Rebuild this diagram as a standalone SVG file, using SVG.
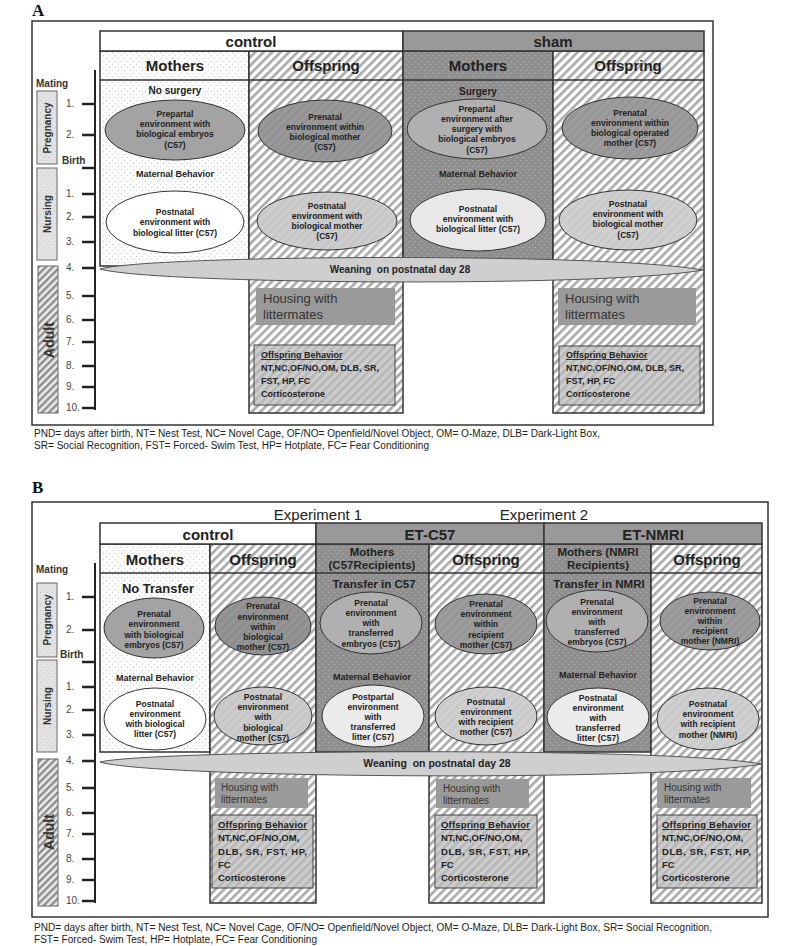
<svg xmlns="http://www.w3.org/2000/svg" width="800" height="946" viewBox="0 0 800 946">
<defs>
<pattern id="hatch" width="6" height="6" patternUnits="userSpaceOnUse" patternTransform="rotate(45)"><rect width="6" height="6" fill="#fff"/><rect width="2.6" height="6" fill="#a8a8a8"/></pattern>
<pattern id="hatchAdult" width="5" height="5" patternUnits="userSpaceOnUse" patternTransform="rotate(45)"><rect width="5" height="5" fill="#ececec"/><rect width="2.4" height="5" fill="#8c8c8c"/></pattern>
<pattern id="hatchBox" width="6" height="6" patternUnits="userSpaceOnUse" patternTransform="rotate(45)"><rect width="6" height="6" fill="#cdcdcd"/><rect width="2.6" height="6" fill="#b6b6b6"/></pattern>
<pattern id="dotsLight" width="6" height="6" patternUnits="userSpaceOnUse"><rect width="6" height="6" fill="#fff"/><circle cx="1.5" cy="1.5" r="0.6" fill="#c4c4c4"/><circle cx="4.5" cy="4.5" r="0.6" fill="#c4c4c4"/></pattern>
<pattern id="dotsDark" width="6" height="6" patternUnits="userSpaceOnUse"><rect width="6" height="6" fill="#8f8f8f"/><circle cx="1.5" cy="1.5" r="0.6" fill="#bdbdbd"/><circle cx="4.5" cy="4.5" r="0.6" fill="#bdbdbd"/></pattern>
<pattern id="dotsPhase" width="6" height="6" patternUnits="userSpaceOnUse"><rect width="6" height="6" fill="#e2e2e2"/><circle cx="1.5" cy="1.5" r="0.6" fill="#c6c6c6"/><circle cx="4.5" cy="4.5" r="0.6" fill="#c6c6c6"/></pattern>
</defs>
<style>
text{font-family:"Liberation Sans",Arial,sans-serif}
.h{font-size:15px;font-weight:bold;fill:#222;text-anchor:middle}
.hn{font-size:15px;fill:#222;text-anchor:middle}
.e{font-size:8.5px;font-weight:bold;fill:#222;text-anchor:middle}
.mb{font-size:9px;font-weight:bold;fill:#222;text-anchor:middle}
.sub{font-size:10px;font-weight:bold;fill:#222;text-anchor:middle}
.col{stroke:#333;stroke-width:1.5}
.ell{stroke:#333;stroke-width:1}
.tick{stroke:#222;stroke-width:2.5}
.num{font-size:10px;fill:#444}
.tlb{font-size:10px;font-weight:bold;fill:#333}
.ph{stroke:#666;stroke-width:1}
.phase{font-size:10px;font-weight:bold;fill:#333;text-anchor:middle}
.house{font-size:13px;fill:#333}
.houseB{font-size:10px;fill:#333}
.ob{font-size:9px;font-weight:bold;fill:#222}
.obB{font-size:9.5px;font-weight:bold;fill:#222}
.cap{font-size:10px;fill:#222}
.wean{fill:#cfcfcf;stroke:#555;stroke-width:1}
.wt{font-size:10px;font-weight:bold;fill:#222;text-anchor:middle}
.hbox{fill:#9a9a9a}
.obox{fill:url(#hatchBox);stroke:#444;stroke-width:1}
</style>

<rect width="800" height="946" fill="#fff"/>

<!-- ================= PANEL A ================= -->
<text x="32" y="16" style="font-family:'Liberation Serif',serif;font-size:17px;font-weight:bold;fill:#111">A</text>
<rect x="32" y="21" width="681" height="404" fill="#fff" stroke="#333" stroke-width="1.5"/>

<g id="A-columns">
<rect x="100" y="51" width="149" height="215" fill="url(#dotsLight)" class="col"/>
<rect x="249" y="51" width="154" height="362" fill="url(#hatch)" class="col"/>
<rect x="403" y="51" width="150" height="215" fill="url(#dotsDark)" class="col"/>
<rect x="553" y="51" width="151" height="362" fill="url(#hatch)" class="col"/>
<line x1="100" y1="80" x2="704" y2="80" class="col"/>
</g>
<g id="A-header-control">
<rect x="100" y="31" width="303" height="20" fill="#fff" class="col"/>
<text x="251" y="47" class="h">control</text>
</g>
<g id="A-header-sham">
<rect x="403" y="31" width="301" height="20" fill="#999" class="col"/>
<text x="553" y="47" class="h">sham</text>
</g>
<g id="A-sub">
<text x="175" y="71" class="h">Mothers</text>
<text x="326" y="71" class="h">Offspring</text>
<text x="478" y="71" class="h">Mothers</text>
<text x="628" y="71" class="h">Offspring</text>
<text x="175" y="94" class="sub">No surgery</text>
<text x="478" y="95" class="sub">Surgery</text>
<text x="175" y="177" class="mb">Maternal Behavior</text>
<text x="478" y="177" class="mb">Maternal Behavior</text>
</g>

<g id="A-ctrl-mother-prepartal">
<ellipse cx="175" cy="130" rx="70" ry="30" fill="#a3a3a3" class="ell"/>
<text class="e"><tspan x="175" y="117">Prepartal</tspan><tspan x="175" y="127">environment with</tspan><tspan x="175" y="137">biological embryos</tspan><tspan x="175" y="148">(C57)</tspan></text>
</g>
<g id="A-ctrl-mother-postnatal">
<ellipse cx="175" cy="222" rx="69" ry="31" fill="#fff" class="ell"/>
<text class="e"><tspan x="175" y="215">Postnatal</tspan><tspan x="175" y="225">environment with</tspan><tspan x="175" y="236">biological litter (C57)</tspan></text>
</g>
<g id="A-ctrl-offspring-prenatal">
<ellipse cx="325" cy="131" rx="67" ry="31" fill="#8e8e8e" fill-opacity="0.9" class="ell"/>
<text class="e"><tspan x="325" y="120">Prenatal</tspan><tspan x="325" y="130">environment within</tspan><tspan x="325" y="140">biological mother</tspan><tspan x="325" y="150">(C57)</tspan></text>
</g>
<g id="A-ctrl-offspring-postnatal">
<ellipse cx="327" cy="221" rx="70" ry="29" fill="#c9c9c9" fill-opacity="0.92" class="ell"/>
<text class="e"><tspan x="327" y="209">Postnatal</tspan><tspan x="327" y="219">environment with</tspan><tspan x="327" y="229">biological mother</tspan><tspan x="327" y="239">(C57)</tspan></text>
</g>
<g id="A-sham-mother-prepartal">
<ellipse cx="477" cy="129" rx="70" ry="30" fill="#b0b0b0" class="ell"/>
<text class="e"><tspan x="477" y="112">Prepartal</tspan><tspan x="477" y="122">environment after</tspan><tspan x="477" y="132">surgery with</tspan><tspan x="477" y="142">biological embryos</tspan><tspan x="477" y="153">(C57)</tspan></text>
</g>
<g id="A-sham-mother-postnatal">
<ellipse cx="478" cy="220" rx="68" ry="31" fill="#e8e8e8" class="ell"/>
<text class="e"><tspan x="478" y="212">Postnatal</tspan><tspan x="478" y="222">environment with</tspan><tspan x="478" y="232">biological litter (C57)</tspan></text>
</g>
<g id="A-sham-offspring-prenatal">
<ellipse cx="630" cy="128" rx="68" ry="31" fill="#929292" fill-opacity="0.9" class="ell"/>
<text class="e"><tspan x="630" y="116">Prenatal</tspan><tspan x="630" y="126">environment within</tspan><tspan x="630" y="136">biological operated</tspan><tspan x="630" y="146">mother (C57)</tspan></text>
</g>
<g id="A-sham-offspring-postnatal">
<ellipse cx="628" cy="220" rx="69" ry="30" fill="#cccccc" fill-opacity="0.92" class="ell"/>
<text class="e"><tspan x="628" y="207">Postnatal</tspan><tspan x="628" y="217">environment with</tspan><tspan x="628" y="227">biological mother</tspan><tspan x="628" y="238">(C57)</tspan></text>
</g>

<g id="A-weaning">
<path d="M100,269 C150,255 600,252 703,270 C600,288 150,284 100,269 Z" class="wean"/>
<text x="400" y="273" class="wt" xml:space="preserve">Weaning  on postnatal day 28</text>
</g>

<g id="A-ctrl-housing">
<rect x="256" y="288" width="139" height="37" class="hbox"/>
<text class="house"><tspan x="263" y="303">Housing with</tspan><tspan x="263" y="319">littermates</tspan></text>
</g>
<g id="A-sham-housing">
<rect x="558" y="288" width="138" height="37" class="hbox"/>
<text class="house"><tspan x="565" y="303">Housing with</tspan><tspan x="565" y="319">littermates</tspan></text>
</g>
<g id="A-ctrl-behavior">
<rect x="254" y="345" width="141" height="60" class="obox"/>
<text class="ob"><tspan x="261" y="358" text-decoration="underline">Offspring Behavior</tspan><tspan x="261" y="371">NT,NC,OF/NO,OM, DLB, SR,</tspan><tspan x="261" y="384">FST, HP, FC</tspan><tspan x="261" y="397">Corticosterone</tspan></text>
</g>
<g id="A-sham-behavior">
<rect x="559" y="346" width="141" height="59" class="obox"/>
<text class="ob"><tspan x="566" y="358" text-decoration="underline">Offspring Behavior</tspan><tspan x="566" y="371">NT,NC,OF/NO,OM, DLB, SR,</tspan><tspan x="566" y="384">FST, HP, FC</tspan><tspan x="566" y="397">Corticosterone</tspan></text>
</g>

<g id="A-timeline">
<rect x="37" y="91" width="20" height="73" fill="url(#dotsPhase)" class="ph"/>
<rect x="37" y="168" width="20" height="92" fill="url(#dotsPhase)" class="ph"/>
<rect x="38" y="266" width="20" height="147" fill="url(#hatchAdult)" class="ph"/>
<text transform="translate(51,128) rotate(-90)" class="phase">Pregnancy</text>
<text transform="translate(51,214) rotate(-90)" class="phase">Nursing</text>
<text transform="translate(54,340) rotate(-90)" class="phase" style="font-size:14px">Adult</text>
<line x1="95" y1="70" x2="95" y2="410" stroke="#222" stroke-width="2"/>
<g class="tick">
<line x1="82" y1="104" x2="95" y2="104"/><line x1="82" y1="135" x2="95" y2="135"/><line x1="82" y1="168" x2="95" y2="168"/>
<line x1="82" y1="194" x2="95" y2="194"/><line x1="82" y1="217" x2="95" y2="217"/><line x1="82" y1="242" x2="95" y2="242"/>
<line x1="82" y1="268" x2="95" y2="268"/><line x1="82" y1="296" x2="95" y2="296"/><line x1="82" y1="320" x2="95" y2="320"/>
<line x1="82" y1="342" x2="95" y2="342"/><line x1="82" y1="366" x2="95" y2="366"/><line x1="82" y1="387" x2="95" y2="387"/>
<line x1="82" y1="408" x2="95" y2="408"/>
</g>
<text x="36" y="87" class="tlb">Mating</text>
<text x="62" y="164" class="tlb">Birth</text>
<g class="num">
<text x="66" y="107">1.</text><text x="66" y="138">2.</text>
<text x="66" y="197">1.</text><text x="66" y="220">2.</text><text x="66" y="245">3.</text>
<text x="66" y="271">4.</text><text x="66" y="299">5.</text><text x="66" y="323">6.</text><text x="66" y="345">7.</text>
<text x="66" y="369">8.</text><text x="66" y="390">9.</text><text x="66" y="411">10.</text>
</g>
</g>

<text class="cap"><tspan x="34" y="437" textLength="566" lengthAdjust="spacingAndGlyphs">PND= days after birth, NT= Nest Test, NC= Novel Cage, OF/NO= Openfield/Novel Object, OM= O-Maze, DLB= Dark-Light Box,</tspan><tspan x="34" y="449" textLength="395" lengthAdjust="spacingAndGlyphs">SR= Social Recognition, FST= Forced- Swim Test, HP= Hotplate, FC= Fear Conditioning</tspan></text>

<!-- ================= PANEL B ================= -->
<text x="32" y="493" style="font-family:'Liberation Serif',serif;font-size:17px;font-weight:bold;fill:#111">B</text>
<rect x="32" y="502" width="736" height="415" fill="#fff" stroke="#333" stroke-width="1.5"/>
<text x="318" y="520" class="hn">Experiment 1</text>
<text x="544" y="520" class="hn">Experiment 2</text>

<g id="B-columns">
<rect x="100" y="544" width="110" height="208" fill="url(#dotsLight)" class="col"/>
<rect x="210" y="544" width="106" height="359" fill="url(#hatch)" class="col"/>
<rect x="316" y="544" width="113" height="208" fill="url(#dotsDark)" class="col"/>
<rect x="429" y="544" width="115" height="359" fill="url(#hatch)" class="col"/>
<rect x="544" y="544" width="107" height="208" fill="url(#dotsDark)" class="col"/>
<rect x="651" y="544" width="111" height="359" fill="url(#hatch)" class="col"/>
<line x1="100" y1="573" x2="762" y2="573" class="col"/>
</g>
<g id="B-header-control">
<rect x="100" y="523" width="216" height="21" fill="#fff" class="col"/>
<text x="208" y="540" class="h">control</text>
</g>
<g id="B-header-etc57">
<rect x="316" y="523" width="228" height="21" fill="#999" class="col"/>
<text x="430" y="540" class="h">ET-C57</text>
</g>
<g id="B-header-etnmri">
<rect x="544" y="523" width="218" height="21" fill="#999" class="col"/>
<text x="653" y="540" class="h">ET-NMRI</text>
</g>
<g id="B-sub">
<text x="155" y="565" class="h">Mothers</text>
<text x="263" y="565" class="h">Offspring</text>
<text class="h" style="font-size:11.5px"><tspan x="372" y="556">Mothers</tspan><tspan x="372" y="569">(C57Recipients)</tspan></text>
<text x="486" y="565" class="h">Offspring</text>
<text class="h" style="font-size:11.5px"><tspan x="598" y="556">Mothers (NMRI</tspan><tspan x="598" y="569">Recipients)</tspan></text>
<text x="707" y="565" class="h">Offspring</text>
<text x="158" y="593" class="h" style="font-size:13px">No Transfer</text>
<text x="374" y="588" class="h" style="font-size:11.5px">Transfer in C57</text>
<text x="599" y="588" class="h" style="font-size:11.5px">Transfer in NMRI</text>
<text x="155" y="681" class="mb">Maternal Behavior</text>
<text x="372" y="680" class="mb">Maternal Behavior</text>
<text x="598" y="678" class="mb">Maternal Behavior</text>
</g>

<g id="B-ctrl-mother-prenatal">
<ellipse cx="154" cy="628" rx="50" ry="30" fill="#a3a3a3" class="ell"/>
<text class="e"><tspan x="154" y="617">Prenatal</tspan><tspan x="154" y="627">environment</tspan><tspan x="154" y="638">with biological</tspan><tspan x="154" y="648">embryos (C57)</tspan></text>
</g>
<g id="B-ctrl-mother-postnatal">
<ellipse cx="155" cy="719" rx="51" ry="31" fill="#fff" class="ell"/>
<text class="e"><tspan x="155" y="707">Postnatal</tspan><tspan x="155" y="717">environment</tspan><tspan x="155" y="727">with biological</tspan><tspan x="155" y="737">litter (C57)</tspan></text>
</g>
<g id="B-ctrl-offspring-prenatal">
<ellipse cx="263" cy="626" rx="48" ry="29" fill="#8a8a8a" fill-opacity="0.9" class="ell"/>
<text class="e"><tspan x="263" y="609">Prenatal</tspan><tspan x="263" y="620">environment</tspan><tspan x="263" y="630">within</tspan><tspan x="263" y="640">biological</tspan><tspan x="263" y="650">mother (C57)</tspan></text>
</g>
<g id="B-ctrl-offspring-postnatal">
<ellipse cx="263" cy="716" rx="49" ry="29" fill="#c8c8c8" fill-opacity="0.92" class="ell"/>
<text class="e"><tspan x="263" y="700">Postnatal</tspan><tspan x="263" y="710">environment</tspan><tspan x="263" y="720">with</tspan><tspan x="263" y="731">biological</tspan><tspan x="263" y="741">mother (C57)</tspan></text>
</g>
<g id="B-c57-mother-prenatal">
<ellipse cx="371" cy="623" rx="51" ry="31" fill="#b0b0b0" class="ell"/>
<text class="e"><tspan x="371" y="606">Prenatal</tspan><tspan x="371" y="616">environment</tspan><tspan x="371" y="626">with</tspan><tspan x="371" y="636">transferred</tspan><tspan x="371" y="647">embryos (C57)</tspan></text>
</g>
<g id="B-c57-mother-postpartal">
<ellipse cx="373" cy="716" rx="51" ry="31" fill="#ebebeb" class="ell"/>
<text class="e"><tspan x="373" y="700">Postpartal</tspan><tspan x="373" y="710">environment</tspan><tspan x="373" y="720">with</tspan><tspan x="373" y="730">transferred</tspan><tspan x="373" y="740">litter (C57)</tspan></text>
</g>
<g id="B-c57-offspring-prenatal">
<ellipse cx="486" cy="624" rx="51" ry="30" fill="#929292" fill-opacity="0.9" class="ell"/>
<text class="e"><tspan x="486" y="607">Prenatal</tspan><tspan x="486" y="617">environment</tspan><tspan x="486" y="627">within</tspan><tspan x="486" y="638">recipient</tspan><tspan x="486" y="648">mother (C57)</tspan></text>
</g>
<g id="B-c57-offspring-postnatal">
<ellipse cx="486" cy="716" rx="51" ry="29" fill="#cccccc" fill-opacity="0.92" class="ell"/>
<text class="e"><tspan x="486" y="705">Postnatal</tspan><tspan x="486" y="715">environment</tspan><tspan x="486" y="725">with recipient</tspan><tspan x="486" y="735">mother (C57)</tspan></text>
</g>
<g id="B-nmri-mother-prenatal">
<ellipse cx="597" cy="621" rx="51" ry="31" fill="#b0b0b0" class="ell"/>
<text class="e"><tspan x="597" y="605">Prenatal</tspan><tspan x="597" y="615">environment</tspan><tspan x="597" y="625">with</tspan><tspan x="597" y="635">transferred</tspan><tspan x="597" y="645">embryos (C57)</tspan></text>
</g>
<g id="B-nmri-mother-postnatal">
<ellipse cx="598" cy="717" rx="51" ry="29" fill="#ebebeb" class="ell"/>
<text class="e"><tspan x="598" y="701">Postnatal</tspan><tspan x="598" y="711">environment</tspan><tspan x="598" y="721">with</tspan><tspan x="598" y="731">transferred</tspan><tspan x="598" y="741">litter (C57)</tspan></text>
</g>
<g id="B-nmri-offspring-prenatal">
<ellipse cx="710" cy="621" rx="50" ry="29" fill="#929292" fill-opacity="0.9" class="ell"/>
<text class="e"><tspan x="710" y="604">Prenatal</tspan><tspan x="710" y="614">environment</tspan><tspan x="710" y="624">within</tspan><tspan x="710" y="634">recipient</tspan><tspan x="710" y="644">mother (NMRI)</tspan></text>
</g>
<g id="B-nmri-offspring-postnatal">
<ellipse cx="708" cy="719" rx="51" ry="31" fill="#cccccc" fill-opacity="0.92" class="ell"/>
<text class="e"><tspan x="708" y="707">Postnatal</tspan><tspan x="708" y="717">environment</tspan><tspan x="708" y="727">with recipient</tspan><tspan x="708" y="738">mother (NMRI)</tspan></text>
</g>

<g id="B-weaning">
<path d="M100,762 C150,750 660,746 762,764 C660,782 150,778 100,762 Z" class="wean"/>
<text x="437" y="767" class="wt" style="font-size:10.5px" xml:space="preserve">Weaning  on postnatal day 28</text>
</g>

<g id="B-ctrl-housing">
<rect x="215" y="778" width="93" height="30" class="hbox"/>
<text class="houseB"><tspan x="221" y="791">Housing with</tspan><tspan x="221" y="803">littermates</tspan></text>
</g>
<g id="B-c57-housing">
<rect x="436" y="779" width="93" height="29" class="hbox"/>
<text class="houseB"><tspan x="443" y="792">Housing with</tspan><tspan x="443" y="804">littermates</tspan></text>
</g>
<g id="B-nmri-housing">
<rect x="657" y="778" width="94" height="30" class="hbox"/>
<text class="houseB"><tspan x="664" y="791">Housing with</tspan><tspan x="664" y="803">littermates</tspan></text>
</g>
<g id="B-ctrl-behavior">
<rect x="212" y="815" width="101" height="73" class="obox"/>
<text class="obB"><tspan x="218" y="828" text-decoration="underline" textLength="89" lengthAdjust="spacing">Offspring Behavior</tspan><tspan x="218" y="841">NT,NC,OF/NO,OM,</tspan><tspan x="218" y="855" textLength="89" lengthAdjust="spacing">DLB, SR, FST, HP,</tspan><tspan x="218" y="868">FC</tspan><tspan x="218" y="881">Corticosterone</tspan></text>
</g>
<g id="B-c57-behavior">
<rect x="435" y="815" width="102" height="73" class="obox"/>
<text class="obB"><tspan x="441" y="828" text-decoration="underline" textLength="89" lengthAdjust="spacing">Offspring Behavior</tspan><tspan x="441" y="841">NT,NC,OF/NO,OM,</tspan><tspan x="441" y="855" textLength="89" lengthAdjust="spacing">DLB, SR, FST, HP,</tspan><tspan x="441" y="868">FC</tspan><tspan x="441" y="881">Corticosterone</tspan></text>
</g>
<g id="B-nmri-behavior">
<rect x="657" y="815" width="100" height="73" class="obox"/>
<text class="obB"><tspan x="662" y="828" text-decoration="underline" textLength="89" lengthAdjust="spacing">Offspring Behavior</tspan><tspan x="662" y="841">NT,NC,OF/NO,OM,</tspan><tspan x="662" y="855" textLength="89" lengthAdjust="spacing">DLB, SR, FST, HP,</tspan><tspan x="662" y="868">FC</tspan><tspan x="662" y="881">Corticosterone</tspan></text>
</g>

<g id="B-timeline">
<rect x="37" y="583" width="20" height="74" fill="url(#dotsPhase)" class="ph"/>
<rect x="37" y="660" width="20" height="92" fill="url(#dotsPhase)" class="ph"/>
<rect x="38" y="759" width="20" height="147" fill="url(#hatchAdult)" class="ph"/>
<text transform="translate(51,620) rotate(-90)" class="phase">Pregnancy</text>
<text transform="translate(51,706) rotate(-90)" class="phase">Nursing</text>
<text transform="translate(54,832) rotate(-90)" class="phase" style="font-size:14px">Adult</text>
<line x1="95" y1="563" x2="95" y2="903" stroke="#222" stroke-width="2"/>
<g class="tick">
<line x1="82" y1="597" x2="95" y2="597"/><line x1="82" y1="630" x2="95" y2="630"/><line x1="82" y1="662" x2="95" y2="662"/>
<line x1="82" y1="687" x2="95" y2="687"/><line x1="82" y1="710" x2="95" y2="710"/><line x1="82" y1="735" x2="95" y2="735"/>
<line x1="82" y1="761" x2="95" y2="761"/><line x1="82" y1="788" x2="95" y2="788"/><line x1="82" y1="813" x2="95" y2="813"/>
<line x1="82" y1="834" x2="95" y2="834"/><line x1="82" y1="859" x2="95" y2="859"/><line x1="82" y1="880" x2="95" y2="880"/>
<line x1="82" y1="901" x2="95" y2="901"/>
</g>
<text x="36" y="573" class="tlb">Mating</text>
<text x="60" y="658" class="tlb">Birth</text>
<g class="num">
<text x="66" y="600">1.</text><text x="66" y="633">2.</text>
<text x="66" y="690">1.</text><text x="66" y="713">2.</text><text x="66" y="738">3.</text>
<text x="66" y="764">4.</text><text x="66" y="791">5.</text><text x="66" y="816">6.</text><text x="66" y="837">7.</text>
<text x="66" y="862">8.</text><text x="66" y="883">9.</text><text x="66" y="904">10.</text>
</g>
</g>

<text class="cap"><tspan x="34" y="931" textLength="678" lengthAdjust="spacingAndGlyphs">PND= days after birth, NT= Nest Test, NC= Novel Cage, OF/NO= Openfield/Novel Object, OM= O-Maze, DLB= Dark-Light Box, SR= Social Recognition,</tspan><tspan x="34" y="943" textLength="283" lengthAdjust="spacingAndGlyphs">FST= Forced- Swim Test, HP= Hotplate, FC= Fear Conditioning</tspan></text>
</svg>
